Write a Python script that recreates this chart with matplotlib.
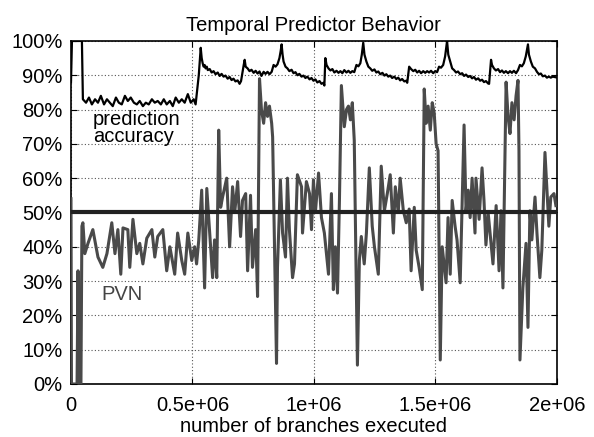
import matplotlib
matplotlib.use("Agg")
import matplotlib.pyplot as plt
from matplotlib.ticker import FuncFormatter, MultipleLocator

plt.rcParams['font.family'] = ['Liberation Sans', 'DejaVu Sans']

# x in thousands of branches, y in percent
acc_x = [0, 4, 45, 49, 62, 74, 86, 99, 111, 123, 136, 148, 160, 172, 185, 197, 209, 222,
         234, 246, 259, 271, 283, 296, 308, 320, 333, 345, 357, 370, 382, 394, 407, 419,
         431, 444, 456, 468, 481, 493, 505, 513,
         526, 534, 538, 542, 546, 550, 554, 559, 563, 571, 579, 587, 595, 604, 612, 620, 628,
         636, 645, 653, 661, 669, 677, 686, 694, 700,
         711, 715, 719, 727, 735, 743, 752, 760, 768, 776, 784, 793, 801, 809, 817, 826,
         834, 842, 850, 858, 863, 867, 871, 875, 883, 891, 899, 908, 916, 924, 932, 940, 949,
         957, 965, 973, 982, 990, 998, 1006, 1014, 1023, 1031, 1039, 1043,
         1047, 1052, 1060, 1068, 1076, 1084, 1093, 1101, 1109, 1117, 1125, 1134, 1142, 1150,
         1158, 1166, 1175, 1183, 1191, 1197, 1203, 1208, 1216, 1224, 1232, 1240, 1249, 1257,
         1265, 1273, 1282, 1290, 1298, 1306, 1314, 1322, 1331, 1339, 1347, 1355, 1363, 1372,
         1380, 1384,
         1392, 1400, 1409, 1417, 1425, 1433, 1441, 1450, 1458, 1466, 1474, 1482, 1491, 1499,
         1507, 1515, 1523, 1532, 1540, 1548, 1553, 1561, 1569, 1577, 1585, 1593, 1602, 1610,
         1618, 1626, 1635, 1643, 1651, 1659, 1667, 1676, 1684, 1692, 1700, 1708, 1717, 1721,
         1729, 1733, 1741, 1749, 1758, 1766, 1774, 1782, 1790, 1799, 1807, 1815, 1823, 1832,
         1840, 1848, 1856, 1864, 1872, 1881, 1885, 1893, 1901, 1910, 1918, 1926, 1934, 1942,
         1951, 1959, 1967, 1975, 1983, 1996]
acc_y = [88, 100, 100, 83, 82, 83.5, 81.5, 83, 82, 84, 81.5, 83, 82, 81, 83.5, 82, 81.5, 84,
         82.5, 83.5, 82, 81.5, 82.5, 81, 82, 81.5, 83, 82, 82.5, 81.5, 83, 81.5, 82.5, 81,
         83.5, 82, 83, 82, 84.5, 82, 83, 81.5,
         90, 98, 95, 93.5, 92.5, 93, 92, 92.5, 91.5, 91.8, 90.8, 91.2, 90.3, 90.8, 89.8, 90.4, 89.6,
         89.9, 89, 89.5, 88.6, 89, 88.2, 88.5, 87.5, 88.3,
         93, 94.5, 92.5, 92, 91.2, 91.6, 90.7, 91.3, 90.5, 91.1, 89.8, 91, 90.4, 91, 90.3, 91,
         93, 92.5, 93.2, 95, 97, 99, 96, 94, 92.5, 92, 91.2, 91.6, 90.6, 90.9, 90, 90.4, 89.6,
         89.9, 89.2, 89.6, 88.8, 89.2, 88.4, 88.8, 87.9, 88.3, 87.5, 87.8, 87,
         95, 93, 92, 91.4, 91.8, 90.8, 91.3, 90.7, 91.2, 90.6, 91.5, 90.8, 91.3, 90.7,
         91.2, 90.9, 93, 92.6, 93.5, 96, 99.5, 96, 94, 92.5, 92, 91.3, 91.7, 90.8,
         91.1, 90.3, 90.7, 89.9, 90.3, 89.6, 89.9, 89.2, 89.6, 88.9, 89.3, 88.5, 88.9, 88.2,
         88.4, 87.8,
         92.5, 91.8, 91.2, 91.6, 90.8, 91.3, 90.6, 91.2, 90.7, 91.2, 90.8, 91.3, 90.6, 91.2,
         90.9, 92.5, 92.2, 93, 95.5, 100, 96, 94, 92, 91.5, 90.8, 91.1, 90.3, 90.6,
         89.8, 90.2, 89.5, 89.8, 89.1, 89.5, 88.7, 89.1, 88.4, 88.7, 88, 88.3, 87.6, 87.5,
         94.5, 93, 92, 91.4, 91.8, 90.9, 91.4, 90.7, 91.2, 90.6, 91.2, 90.7, 91.3, 90.6,
         91.5, 93, 92.6, 93.5, 95.5, 99, 96, 94, 92.5, 92, 91, 90.3, 90.5, 89.7,
         89.9, 89.3, 89.6, 89.3, 89.6, 89.4]

pvn_x = [0, 2, 25, 29, 33, 41, 45, 49, 57, 70, 90, 111, 131, 148, 168, 181, 193, 205, 214,
         234, 242, 255, 271, 283, 296, 312, 333, 345, 357, 378, 394, 407, 427, 439, 456,
         468, 481, 497, 509, 517, 526, 538, 550, 559, 571, 583, 591, 600, 608, 616, 624,
         641, 653, 665, 674, 686, 698, 706, 719, 727, 739, 747, 760, 768, 776, 784, 793,
         801, 809, 817, 826, 830, 838, 846, 850, 862, 871, 883, 891, 899, 912, 920, 932,
         949, 953, 969, 982, 990, 998, 1006, 1019, 1031, 1043, 1060, 1072, 1080, 1088, 1097,
         1105, 1113, 1125, 1134, 1142, 1150, 1158, 1166, 1179, 1187, 1195, 1207, 1216, 1228,
         1240, 1249, 1265, 1277, 1290, 1302, 1314, 1327, 1335, 1347, 1355, 1368, 1380, 1392,
         1400, 1413, 1421, 1433, 1446, 1454, 1462, 1470, 1479, 1487, 1495, 1503, 1511, 1520,
         1528, 1544, 1552, 1561, 1569, 1581, 1589, 1602, 1618, 1626, 1635, 1643, 1651, 1663,
         1667, 1680, 1692, 1700, 1708, 1717, 1725, 1737, 1750, 1762, 1770, 1778, 1791, 1799,
         1807, 1815, 1824, 1832, 1840, 1844, 1848, 1860, 1873, 1881, 1889, 1897, 1910, 1918,
         1930, 1938, 1951, 1959, 1967, 1975, 1988, 1996]
pvn_y = [54, 0, 0, 33, 0, 0, 46, 47, 38, 41, 45, 37, 34, 38, 47, 38, 45, 32, 45.5,
         45, 34, 48, 38, 41, 35, 42.5, 45, 37, 43, 45, 33, 40, 32, 44, 36,
         32, 44, 36, 40, 35, 42, 56.5, 28, 57, 44, 31, 42, 31, 74, 51.5, 54.5,
         60, 40, 57.5, 50, 59, 43, 53.5, 55.5, 33, 55, 34, 45, 25.5, 89, 80, 76,
         82, 78, 81, 76, 72, 39, 6, 34, 59.5, 44, 37, 60, 45, 31, 35, 61,
         57.5, 44, 59, 55.5, 45, 59.5, 50, 61.5, 48.5, 44, 32, 55.5, 27.5, 40, 26.5,
         53.5, 87, 75, 80, 81, 77, 82, 71, 5.5, 36, 43, 35, 44, 63,
         46, 40, 32, 63.5, 50.5, 55.5, 61, 44, 57.5, 50, 60, 50.5, 47, 51,
         33, 51.5, 39, 34, 27.5, 86, 76, 81, 74, 82, 79, 70, 68, 7,
         40, 29.5, 48.5, 32, 53.5, 46, 42, 29.5, 75.5, 50.5, 56.5, 48.5, 60, 44,
         60, 48, 63, 53.5, 40.5, 50, 44, 35, 52, 33, 50.5, 28, 88, 78,
         73, 82, 77, 84, 88.5, 68, 7, 28, 41, 16.5, 50.5, 42, 54.5, 44,
         31, 39, 67.5, 56.5, 46, 54.5, 55.5, 52]

reference_level = 50
x_ticks = [0, 0.5e6, 1e6, 1.5e6, 2e6]
x_tick_labels = ['0', '0.5e+06', '1e+06', '1.5e+06', '2e+06']

fig = plt.figure(figsize=(5.94, 4.37), dpi=100)
ax = fig.add_axes([0.1195, 0.1213, 0.818, 0.785])

ax.plot([v * 1000 for v in pvn_x], pvn_y, color='#4a4a4a', lw=2.2, zorder=3)
ax.axhline(reference_level, color='#222222', lw=3, zorder=4)
ax.plot([v * 1000 for v in acc_x], acc_y, color='black', lw=1.6, zorder=5)

ax.set_xlim(0, 2e6)
ax.set_ylim(0, 100)
ax.set_xticks(x_ticks)
ax.set_xticklabels(x_tick_labels)
ax.yaxis.set_major_locator(MultipleLocator(10))
ax.yaxis.set_major_formatter(FuncFormatter(lambda v, p: f"{int(v)}%"))
ax.tick_params(direction='in', labelsize=14.5, length=4, top=True, right=True)
ax.tick_params(axis='x', pad=9)
ax.tick_params(axis='y', pad=6)
ax.grid(True, color='#555555', linestyle=(0, (1, 2)), lw=0.8)
for s in ax.spines.values():
    s.set_linewidth(1.2)

ax.set_title('Temporal Predictor Behavior', fontsize=14.5, pad=7)
ax.set_xlabel('number of branches executed', fontsize=14.5, labelpad=1)

ax.text(90000, 79.8, 'prediction\naccuracy', fontsize=14.5, va='top', ha='left',
        linespacing=0.85, zorder=6)
ax.text(127000, 28.8, 'PVN', fontsize=14.5, va='top', ha='left', color='#444444', zorder=6)

fig.savefig('out.png', dpi=100)
